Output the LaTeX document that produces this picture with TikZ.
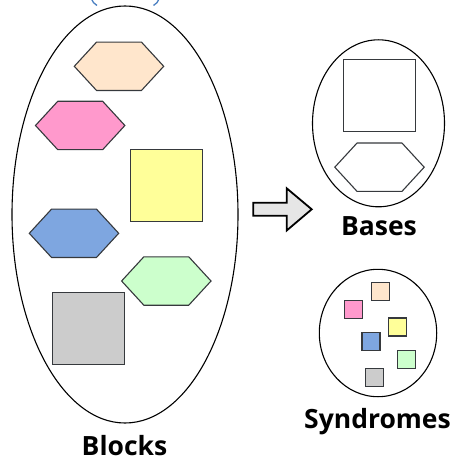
\documentclass[tikz,border=0pt]{standalone}
\usepackage{fontspec}
\setmainfont{Open Sans}
\usetikzlibrary{shapes.geometric}
\definecolor{edge}{HTML}{36393D}
\definecolor{cpeach}{HTML}{FFE6CC}
\definecolor{cpink}{HTML}{FF99CC}
\definecolor{cyellow}{HTML}{FFFF99}
\definecolor{cblue}{HTML}{7EA6E0}
\definecolor{cgreen}{HTML}{CCFFCC}
\definecolor{cgray}{HTML}{CCCCCC}
\definecolor{cparen}{HTML}{4A7FC1}
\definecolor{arrowfill}{HTML}{E6E6E6}
\tikzset{
  container/.style={ellipse, draw=black, line width=1.1pt, inner sep=0pt},
  bigsq/.style={rectangle, draw=edge, line width=1.1pt, minimum size=72pt, inner sep=0pt},
  smallsq/.style={rectangle, draw=edge, line width=1.1pt, minimum size=18pt, inner sep=0pt},
  hexbody/.style={rectangle, draw=none, minimum width=44.5pt, minimum height=48pt, inner sep=0pt},
  hexline/.style={draw=edge, line width=1.1pt, line join=miter},
  lbl/.style={font=\bfseries\fontsize{26.5}{30}\selectfont, anchor=base, inner sep=0pt}
}
% hexagon: name, x, y, fill
\newcommand{\hexa}[4]{%
  \node[hexbody] (#1) at (#2,#3) {};
  \path[hexline, fill=#4] (#1.north west) -- (#1.north east) -- ([xshift=22.25pt]#1.east)
     -- (#1.south east) -- (#1.south west) -- ([xshift=-22.25pt]#1.west) -- cycle;
}
\begin{document}
\begin{tikzpicture}[x=1pt,y=-1pt]
\useasboundingbox (0,0) rectangle (452,457);
% blue parenthesis remnants at the top
\draw[cparen, line width=1.3pt] (91.5,-1) .. controls (92.5,2) and (94,3.5) .. (97,5.5);
\draw[cparen, line width=1.3pt] (159,-1) .. controls (158,2) and (156.5,3.5) .. (153.5,5.5);

% Blocks
\node[container, minimum width=226pt, minimum height=417pt] (blocks) at (125,214.5) {};
\hexa{hpeach}{119}{66.3}{cpeach}
\hexa{hpink}{80.2}{125.5}{cpink}
\node[bigsq, fill=cyellow] (syellow) at (166.3,185.5) {};
\hexa{hblue}{74}{233.3}{cblue}
\hexa{hgreen}{166.3}{281}{cgreen}
\node[bigsq, fill=cgray] (sgray) at (88.8,328.8) {};
\node[lbl] (tblocks) at (124.5,455) {Blocks};

% arrow
\coordinate (arr) at (253.3,209.3);
\draw[line width=1.8pt, fill=arrowfill, line join=miter]
  (arr) ++(0,-6.5) -- ++(33.4,0) -- ++(0,-14.5) -- (311.7,209.3) -- (286.7,230.5)
  -- ++(0,-14.7) -- ++(-33.4,0) -- cycle;

% Bases
\node[container, minimum width=132pt, minimum height=167pt] (bases) at (378.5,123.3) {};
\node[bigsq, fill=white] (bsq) at (379.2,95.2) {};
\hexa{bhex}{379.5}{167.2}{white}
\node[lbl] (tbases) at (379,235) {Bases};

% Syndromes
\node[container, minimum width=117.4pt, minimum height=127.4pt] (synd) at (378,333) {};
\node[smallsq, fill=cpink] (qpink) at (353.3,309.2) {};
\node[smallsq, fill=cpeach] (qpeach) at (380.2,291.3) {};
\node[smallsq, fill=cyellow] (qyellow) at (397.8,327) {};
\node[smallsq, fill=cblue] (qblue) at (371,341.8) {};
\node[smallsq, fill=cgreen] (qgreen) at (406.8,359.7) {};
\node[smallsq, fill=cgray] (qgray) at (374.2,377.8) {};
\node[lbl] (tsynd) at (377.5,428.3) {Syndromes};
\end{tikzpicture}
\end{document}
